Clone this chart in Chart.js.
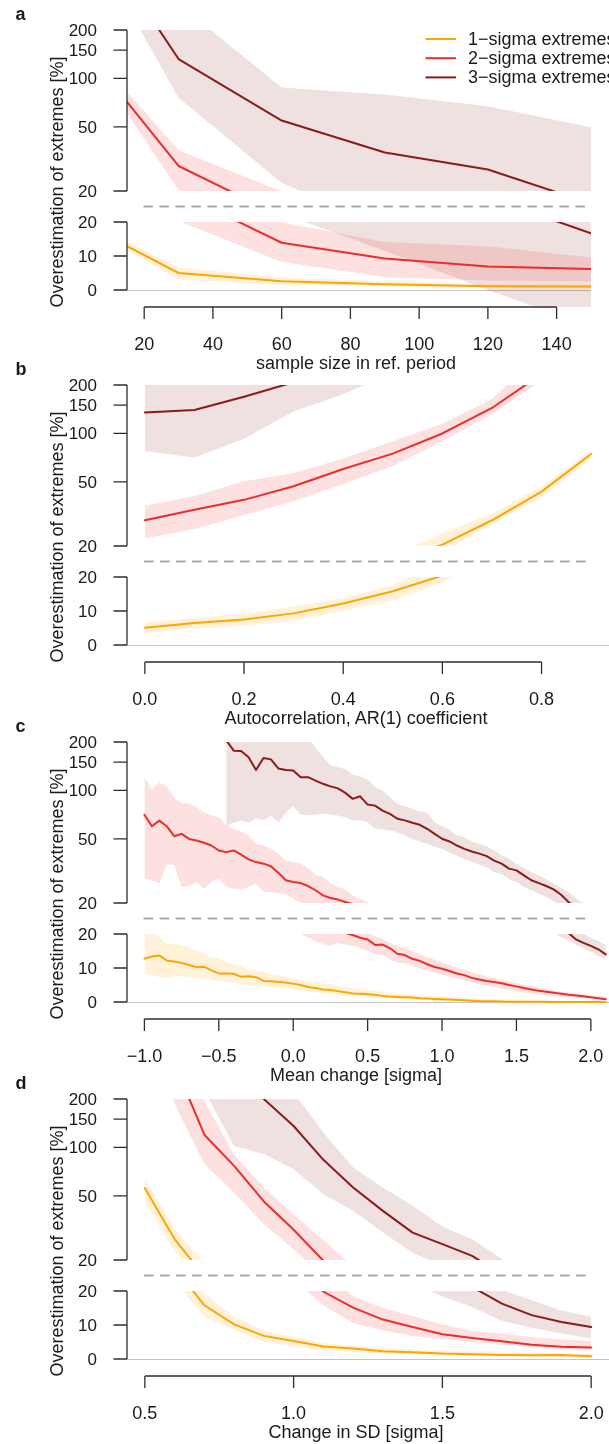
<!DOCTYPE html>
<html>
<head>
<meta charset="utf-8">
<script src="https://cdn.jsdelivr.net/npm/chart.js@4.4.1/dist/chart.umd.min.js"></script>
<style>
  body { margin: 0; background: #fff; }
  #fig { position: relative; width: 609px; height: 1444px; overflow: hidden; background: #fff;
         font-family: "Liberation Sans", Arial, Helvetica, sans-serif; color: #1a1a1a; }
  #fig canvas { position: absolute; left: 0; }
  .lab { position: absolute; font-weight: bold; font-size: 18px; line-height: 20px; }
  .xt { position: absolute; width: 400px; text-align: center; font-size: 18px; line-height: 22px; white-space: nowrap; }
  .yt { position: absolute; width: 320px; text-align: center; font-size: 18px; line-height: 22px;
        white-space: nowrap; transform: rotate(-90deg); }
</style>
</head>
<body>
<div id="fig"></div>
<script>
// ---- panel a: sample size in reference period ----
var sampleSize = [15, 30, 60, 90, 120, 150];
var a1Mean = [12.9, 5.0, 2.6, 1.7, 1.1, 1.0];
var a1Lo   = [11.7, 3.1, 1.6, 1.0, 0.6, 0.5];
var a1Hi   = [14.2, 6.6, 3.7, 2.5, 1.8, 1.6];
var a2Mean = [71.6, 28.6, 13.9, 9.25, 6.9, 6.15];
var a2Lo   = [60.6, 20.3, 8.2, 3.8, 2.8, 2.5];
var a2Hi   = [82.6, 35.8, 19.9, 14.1, 12.9, 9.55];
var a3Mean = [400, 132, 54.8, 34.7, 27.2, 16.7];
var a3Lo   = [280, 76, 22.5, 11.5, 0, -11];
var a3Hi   = [700, 291, 87.8, 79.6, 67.3, 49.8];
var aTicks = [20, 40, 60, 80, 100, 120, 140];

// ---- panel b: AR(1) coefficient ----
var arCoef = [0, 0.1, 0.2, 0.3, 0.4, 0.5, 0.6, 0.7, 0.8, 0.9];
var b1Mean = [5.1, 6.5, 7.5, 9.3, 12.2, 15.8, 20.4, 28.9, 43.5, 74.6];
var b1Lo   = [3.5, 4.8, 5.7, 7.0, 10.1, 13.1, 18.2, 27.3, 40.3, 69.9];
var b1Hi   = [6.7, 7.9, 9.2, 11.4, 13.8, 17.7, 24, 31.8, 47, 77.8];
var b2Mean = [28.9, 33.6, 38.7, 47, 60.1, 75, 100, 144, 234, 400];
var b2Lo   = [22.3, 25.5, 31, 37.9, 48.6, 62.9, 89.5, 131, 213, 330];
var b2Hi   = [35.7, 40.8, 50.5, 56.8, 69.9, 89.5, 115, 163, 330, 600];
var b3Mean = [135, 140, 169, 208, 270, 360, 480, 650, 900, 1300];
var b3Lo   = [77.5, 70.8, 92.7, 137, 175, 240, 320, 430, 600, 850];
var b3Hi   = [380, 400, 440, 480, 560, 650, 800, 1000, 1300, 1800];
var bTicks = [0, 0.2, 0.4, 0.6, 0.8];

// ---- panel c: mean change ----
var meanChange = [-1.0, -0.95, -0.9, -0.85, -0.8, -0.75, -0.7, -0.65, -0.6, -0.55,
  -0.5, -0.45, -0.4, -0.35, -0.3, -0.25, -0.2, -0.15, -0.1, -0.05,
  0, 0.05, 0.1, 0.15, 0.2, 0.25, 0.3, 0.35, 0.4, 0.45,
  0.5, 0.55, 0.6, 0.65, 0.7, 0.75, 0.8, 0.85, 0.9, 0.95,
  1.0, 1.05, 1.1, 1.15, 1.2, 1.25, 1.3, 1.35, 1.4, 1.45,
  1.5, 1.55, 1.6, 1.65, 1.7, 1.75, 1.8, 1.85, 1.9, 1.95,
  2.0, 2.05, 2.1];
var c1Mean = [12.7, 13.4, 13.7, 12.2, 11.9, 11.5, 10.9, 10.2, 10.4, 9.3,
  8.4, 8.4, 8.3, 7.4, 7.6, 7.3, 6.2, 6.1, 5.9, 5.7,
  5.4, 5.0, 4.4, 4.1, 3.7, 3.5, 3.2, 2.9, 2.5, 2.4,
  2.3, 2.1, 1.8, 1.6, 1.5, 1.4, 1.3, 1.1, 1.0, 0.9,
  0.8, 0.7, 0.6, 0.5, 0.4, 0.3, 0.25, 0.2, 0.15, 0.1,
  0.1, 0.08, 0.06, 0.05, 0.04, 0.03, 0.03, 0.02, 0.02, 0.01,
  0.01, 0.01, 0.0];
var c1Lo = [8.3, 8.0, 7.3, 7.0, 7.5, 7.6, 7.4, 7.0, 6.9, 6.6,
  6.0, 5.8, 5.7, 5.3, 5.0, 4.8, 4.5, 4.4, 4.1, 3.9,
  3.7, 3.4, 3.1, 2.9, 2.7, 2.4, 2.2, 2.0, 1.8, 1.6,
  1.5, 1.3, 1.2, 1.0, 0.9, 0.8, 0.7, 0.6, 0.5, 0.4,
  0.35, 0.3, 0.25, 0.2, 0.15, 0.1, 0.08, 0.06, 0.05, 0.04,
  0.03, 0.02, 0.02, 0.01, 0.01, 0, 0, 0, 0, 0,
  0, 0, 0];
var c1Hi = [20.0, 20.0, 19.1, 17.0, 17.2, 16.8, 16.0, 15.0, 14.5, 13.0,
  12.8, 11.8, 11.1, 10.6, 9.4, 9.3, 8.8, 8.1, 7.8, 7.4,
  7.0, 6.5, 6.2, 5.9, 5.4, 5.2, 4.7, 4.4, 4.1, 3.7,
  3.5, 3.2, 3.0, 2.7, 2.5, 2.3, 2.1, 1.9, 1.8, 1.7,
  1.6, 1.5, 1.3, 1.2, 1.0, 0.9, 0.8, 0.7, 0.6, 0.5,
  0.45, 0.4, 0.35, 0.3, 0.28, 0.25, 0.22, 0.2, 0.18, 0.16,
  0.15, 0.13, 0.12];
var c2Mean = [70.6, 60, 65, 60, 52, 53.8, 50, 48.9, 47.3, 45.5,
  42.4, 41.4, 42.4, 39.9, 37.3, 35.9, 35.1, 33.8, 30.8, 27.7,
  27, 26.6, 25.5, 24, 22.3, 21.5, 21, 20.3, 19.7, 18.9,
  18.4, 16.8, 16.9, 15.8, 14.2, 13.8, 12.7, 12.1, 11.1, 10.3,
  9.8, 9.1, 8.4, 7.9, 7.1, 6.6, 6.2, 5.9, 5.5, 5.0,
  4.6, 4.1, 3.7, 3.3, 3.0, 2.7, 2.4, 2.1, 1.9, 1.7,
  1.4, 1.1, 0.8];
var c2Lo = [28.3, 27.7, 26.4, 34.6, 34.6, 25.1, 25.5, 27, 24.5, 27,
  28.3, 25.1, 24.5, 24.3, 25.1, 26.4, 23.4, 23.4, 23, 22.7,
  21.3, 20.0, 18.9, 17.9, 17.1, 16.5, 17.4, 16.9, 16.5, 15.8,
  15.0, 14.0, 13.8, 12.5, 11.6, 11.3, 10.6, 9.9, 9.3, 8.6,
  8.1, 7.4, 6.9, 6.4, 5.7, 5.2, 4.7, 4.4, 3.9, 3.5,
  3.1, 2.8, 2.5, 2.2, 1.9, 1.8, 1.6, 1.4, 1.3, 1.1,
  1.0, 0.8, 0.6];
var c2Hi = [121, 102, 112, 106, 90.8, 83.4, 83, 78.7, 72.6, 69.8,
  68.2, 61.2, 57.8, 55.6, 52.6, 46.7, 45.5, 43.4, 40.5, 36.7,
  35.9, 35.1, 32.7, 30, 29, 26.4, 25.1, 24.3, 22.3, 21.3,
  20.2, 19.4, 18.4, 17.4, 16.5, 16.0, 15.0, 14.0, 13.2, 12.4,
  11.6, 10.9, 10.1, 9.5, 8.8, 8.1, 7.5, 7.0, 6.5, 6.0,
  5.6, 5.1, 4.6, 4.2, 3.8, 3.4, 3.1, 2.7, 2.4, 2.2,
  1.9, 1.7, 1.4];
// 3-sigma has no estimate for the strongest negative shifts
var c3Mean = [null, null, null, null, null, null, null, null, null, null,
  null, 205, 176.6, 176, 160.6, 134, 159, 156, 137, 134,
  133, 121, 121, 115, 110, 106, 103, 96.6, 88.7, 92,
  81.7, 80.5, 75, 71.6, 66.7, 65.2, 63, 61.2, 57.8, 53.8,
  50.1, 48.2, 45.5, 43.4, 41.8, 40.5, 39.1, 36.7, 35.1, 32.7,
  31.9, 29.7, 27.7, 26.6, 25.5, 24.3, 22.5, 20.3, 18.4, 17.4,
  16.5, 15.5, 14.0];
var c3Lo = [null, null, null, null, null, null, null, null, null, null,
  null, 60, 63, 65, 63, 67.3, 65, 69.8, 63, 72.6,
  79.8, 70.6, 69.8, 70.6, 71.6, 71, 69.8, 68.2, 65, 65,
  63.5, 57.8, 57.3, 56.4, 55.1, 52.6, 49.7, 48.2, 46.7, 44.5,
  43.4, 41, 39.4, 37.3, 35.9, 34.6, 33.4, 31.1, 30.4, 28.1,
  27, 25.1, 24, 22.9, 21.8, 20.5, 19.1, 18.1, 16.8, 15.8,
  14.8, 13.5, 12.5];
var c3Hi = [null, null, null, null, null, null, null, null, null, null,
  null, 300, 300, 300, 290, 290, 280, 270, 260, 250,
  240, 230, 215, 185, 161, 144, 139, 136, 125, 122,
  117, 105, 99.8, 90.8, 82.6, 79.8, 76.9, 74, 72.6, 63.5,
  60, 57.3, 52.6, 51.3, 48.2, 46.7, 45.1, 42.4, 39.4, 37.7,
  35.1, 33, 31.1, 29.7, 28.1, 26.4, 24.8, 23.4, 21.3, 20.0,
  18.9, 17.9, 16.8];
var cTicks = [-1, -0.5, 0, 0.5, 1, 1.5, 2];

// ---- panel d: change in SD ----
var sdChange = [0.5, 0.6, 0.7, 0.8, 0.9, 1.0, 1.1, 1.2, 1.3, 1.4, 1.5, 1.6, 1.7, 1.8, 1.9, 2.0];
var d1Mean = [55.9, 27, 15.8, 10.2, 6.8, 5.3, 3.7, 3.1, 2.3, 2.0, 1.6, 1.4, 1.2, 1.1, 1.2, 0.8];
var d1Lo   = [45.5, 22.7, 12.4, 8.6, 5.0, 3.7, 2.4, 2.1, 1.6, 1.4, 1.0, 0.9, 0.8, 0.7, 0.7, 0.5];
var d1Hi   = [64.4, 31, 19.4, 12.4, 8.4, 6.5, 4.7, 3.9, 3.2, 2.8, 2.4, 2.1, 1.9, 1.8, 1.7, 1.4];
var d2Mean = [950, 330, 120, 76.9, 46.2, 30.8, 19.8, 15.1, 11.6, 9.4, 7.3, 6.2, 5.2, 4.2, 3.6, 3.4];
var d2Lo   = [600, 187, 78.8, 52.5, 33.3, 23.3, 15.8, 10.5, 8.4, 6.8, 5.8, 5.0, 4.2, 3.5, 2.9, 2.6];
var d2Hi   = [2000, 600, 195, 90, 56.4, 38.4, 26.5, 18.4, 15.1, 12.6, 10.2, 8.2, 7.5, 6.5, 5.7, 5.3];
var d3Mean = [2000, 1000, 560, 316, 200, 136, 83.8, 56.4, 40.4, 29.6, 25.1, 21.2, 16.3, 12.9, 10.9, 9.4];
var d3Lo   = [900, 450, 225, 102, 91, 73.3, 51.3, 40.4, 29.6, 22.2, 18.4, 15.3, 11.2, 9.2, 7.5, 6.0];
var d3Hi   = [5000, 2500, 1200, 700, 380, 220, 124, 75.2, 56.4, 43.4, 32.3, 26.9, 20.3, 17.3, 14.3, 12.4];
var dTicks = [0.5, 1.0, 1.5, 2.0];

var upperTicks = [20, 50, 100, 150, 200];
var lowerTicks = [0, 10, 20];
var seriesNames = ['1\u2212sigma extremes', '2\u2212sigma extremes', '3\u2212sigma extremes'];

var lineColors = ['#FFA500', '#EE2C2C', '#8B1A1A'];
var bandColors = ['rgba(255,165,0,0.15)', 'rgba(238,44,44,0.14)', 'rgba(139,26,26,0.13)'];
var FONT = '"Liberation Sans", Arial, Helvetica, sans-serif';

function fmtDec(v) {
	return v.toFixed(1).replace('-', '\u2212');
}

// R-style axes: lines only span the tick range, ticks point outwards
var rAxes = {
	id: 'rAxes',
	beforeDatasetsDraw: function (chart, args, o) {
		if (!o.zero) return;
		var ctx = chart.ctx, a = chart.chartArea;
		var py = Math.round(chart.scales.y.getPixelForValue(0)) + 0.5;
		ctx.save();
		ctx.strokeStyle = '#c4c4c4';
		ctx.lineWidth = 1.2;
		ctx.beginPath();
		ctx.moveTo(a.left, py);
		ctx.lineTo(a.right, py);
		ctx.stroke();
		ctx.restore();
	},
	afterDraw: function (chart, args, o) {
		var ctx = chart.ctx, a = chart.chartArea;
		var x = chart.scales.x, y = chart.scales.y;
		ctx.save();
		ctx.strokeStyle = '#2e2e2e';
		ctx.fillStyle = '#1a1a1a';
		ctx.lineWidth = 1.3;

		// y axis
		var yt = o.yTicks;
		ctx.font = '17px ' + FONT;
		ctx.textAlign = 'right';
		ctx.textBaseline = 'middle';
		ctx.beginPath();
		ctx.moveTo(a.left, y.getPixelForValue(yt[0]));
		ctx.lineTo(a.left, y.getPixelForValue(yt[yt.length - 1]));
		yt.forEach(function (v) {
			var py = y.getPixelForValue(v);
			ctx.moveTo(a.left - 13.5, py);
			ctx.lineTo(a.left, py);
			ctx.fillText(String(v), a.left - 30, py + 1);
		});
		ctx.stroke();

		// x axis under the lower part
		if (o.xTicks) {
			var xt = o.xTicks;
			var by = a.bottom;
			ctx.font = '18px ' + FONT;
			ctx.textAlign = 'center';
			ctx.beginPath();
			ctx.moveTo(x.getPixelForValue(xt[0]), by);
			ctx.lineTo(x.getPixelForValue(xt[xt.length - 1]), by);
			xt.forEach(function (v) {
				var px = x.getPixelForValue(v);
				ctx.moveTo(px, by);
				ctx.lineTo(px, by + 12);
				ctx.fillText(o.xFmt(v), px, by + 38);
			});
			ctx.stroke();
		}

		// dashed break marker between the log and linear parts
		if (o.dash) {
			var dy = a.top - 15.5;
			ctx.strokeStyle = '#a8a8a8';
			ctx.lineWidth = 2;
			ctx.lineCap = 'round';
			ctx.setLineDash([8, 8]);
			ctx.beginPath();
			ctx.moveTo(x.getPixelForValue(o.dash[0]), dy);
			ctx.lineTo(x.getPixelForValue(o.dash[1]), dy);
			ctx.stroke();
			ctx.setLineDash([]);
		}

		if (o.legend) {
			ctx.font = '18px ' + FONT;
			ctx.textAlign = 'left';
			ctx.lineWidth = 2;
			ctx.lineCap = 'butt';
			seriesNames.forEach(function (name, i) {
				var ly = a.top + 9 + i * 19.2;
				ctx.strokeStyle = lineColors[i];
				ctx.beginPath();
				ctx.moveTo(425.5, ly);
				ctx.lineTo(456, ly);
				ctx.stroke();
				ctx.fillText(name, 468, ly + 1);
			});
		}
		ctx.restore();
	}
};

function pts(xs, ys, log) {
	return xs.map(function (xv, i) {
		var v = ys[i];
		if (v === null) return { x: xv, y: null };
		return { x: xv, y: log ? Math.max(v, 1) : v };
	});
}

function makeSets(xs, levels, log) {
	var bands = [], lines = [];
	levels.forEach(function (lv, i) {
		bands.push({ data: pts(xs, lv[2], log), borderWidth: 0, borderColor: 'transparent',
			pointRadius: 0, fill: false, order: 2, clip: 0 });
		bands.push({ data: pts(xs, lv[0], log), borderWidth: 0, borderColor: 'transparent',
			pointRadius: 0, fill: '-1', backgroundColor: bandColors[i], order: 2, clip: 0 });
	});
	levels.forEach(function (lv, i) {
		lines.push({ data: pts(xs, lv[1], log), borderColor: lineColors[i], borderWidth: 2,
			pointRadius: 0, fill: false, order: 1, clip: 0 });
	});
	return bands.concat(lines);
}

var panels = [
	{ key: 'a', top: 30, xs: sampleSize, xMin: 15, xMax: 150, right: 18, ticks: aTicks,
	  fmt: function (v) { return String(v); }, dash: [20, 150], legend: true,
	  title: 'sample size in ref. period',
	  levels: [[a1Lo, a1Mean, a1Hi], [a2Lo, a2Mean, a2Hi], [a3Lo, a3Mean, a3Hi]] },
	{ key: 'b', top: 385, xs: arCoef, xMin: -0.036, xMax: 0.936, right: 0, ticks: bTicks,
	  fmt: fmtDec, dash: [0, 0.9], legend: false,
	  title: 'Autocorrelation, AR(1) coefficient',
	  levels: [[b1Lo, b1Mean, b1Hi], [b2Lo, b2Mean, b2Hi], [b3Lo, b3Mean, b3Hi]] },
	{ key: 'c', top: 742, xs: meanChange, xMin: -1.117, xMax: 2.122, right: 0, ticks: cTicks,
	  fmt: fmtDec, dash: [-1, 2], legend: false,
	  title: 'Mean change [sigma]',
	  levels: [[c1Lo, c1Mean, c1Hi], [c2Lo, c2Mean, c2Hi], [c3Lo, c3Mean, c3Hi]] },
	{ key: 'd', top: 1099, xs: sdChange, xMin: 0.44, xMax: 2.06, right: 0, ticks: dTicks,
	  fmt: fmtDec, dash: [0.5, 2.0], legend: false,
	  title: 'Change in SD [sigma]',
	  levels: [[d1Lo, d1Mean, d1Hi], [d2Lo, d2Mean, d2Hi], [d3Lo, d3Mean, d3Hi]] }
];

var fig = document.getElementById('fig');

function addCanvas(top, height) {
	var c = document.createElement('canvas');
	c.width = 609;
	c.height = height;
	c.style.top = top + 'px';
	fig.appendChild(c);
	return c.getContext('2d');
}

function addText(cls, text, left, top) {
	var d = document.createElement('div');
	d.className = cls;
	d.textContent = text;
	d.style.left = left + 'px';
	d.style.top = top + 'px';
	fig.appendChild(d);
}

function baseOptions(p, pad, yScale, axesOpts) {
	return {
		responsive: false,
		animation: false,
		devicePixelRatio: 1,
		layout: { padding: { left: 127, right: p.right, top: pad[0], bottom: pad[1] } },
		elements: { line: { tension: 0, borderJoinStyle: 'round', borderCapStyle: 'round' } },
		plugins: { legend: { display: false }, tooltip: { enabled: false }, rAxes: axesOpts },
		scales: {
			x: { type: 'linear', min: p.xMin, max: p.xMax, display: false },
			y: yScale
		}
	};
}

panels.forEach(function (p) {
	var T = p.top;

	// upper part: log scale 20..200, plot area T..T+161
	new Chart(addCanvas(T - 16, 161 + 32), {
		type: 'line',
		data: { datasets: makeSets(p.xs, p.levels, true) },
		options: baseOptions(p, [16, 16],
			{ type: 'logarithmic', min: 20, max: 200, display: false },
			{ yTicks: upperTicks, legend: p.legend }),
		plugins: [rAxes]
	});

	// lower part: linear scale, plot area T+192..T+277
	new Chart(addCanvas(T + 170, 22 + 85 + 62), {
		type: 'line',
		data: { datasets: makeSets(p.xs, p.levels, false) },
		options: baseOptions(p, [22, 62],
			{ type: 'linear', min: -5, max: 20, display: false },
			{ yTicks: lowerTicks, xTicks: p.ticks, xFmt: p.fmt, zero: true, dash: p.dash }),
		plugins: [rAxes]
	});

	addText('lab', p.key, 15.5, T - 26);
	addText('xt', p.title, 356 - 200, T + 322);
	addText('yt', 'Overestimation of extremes [%]', 56.5 - 160, T + 152 - 11);
});
</script>
</body>
</html>
